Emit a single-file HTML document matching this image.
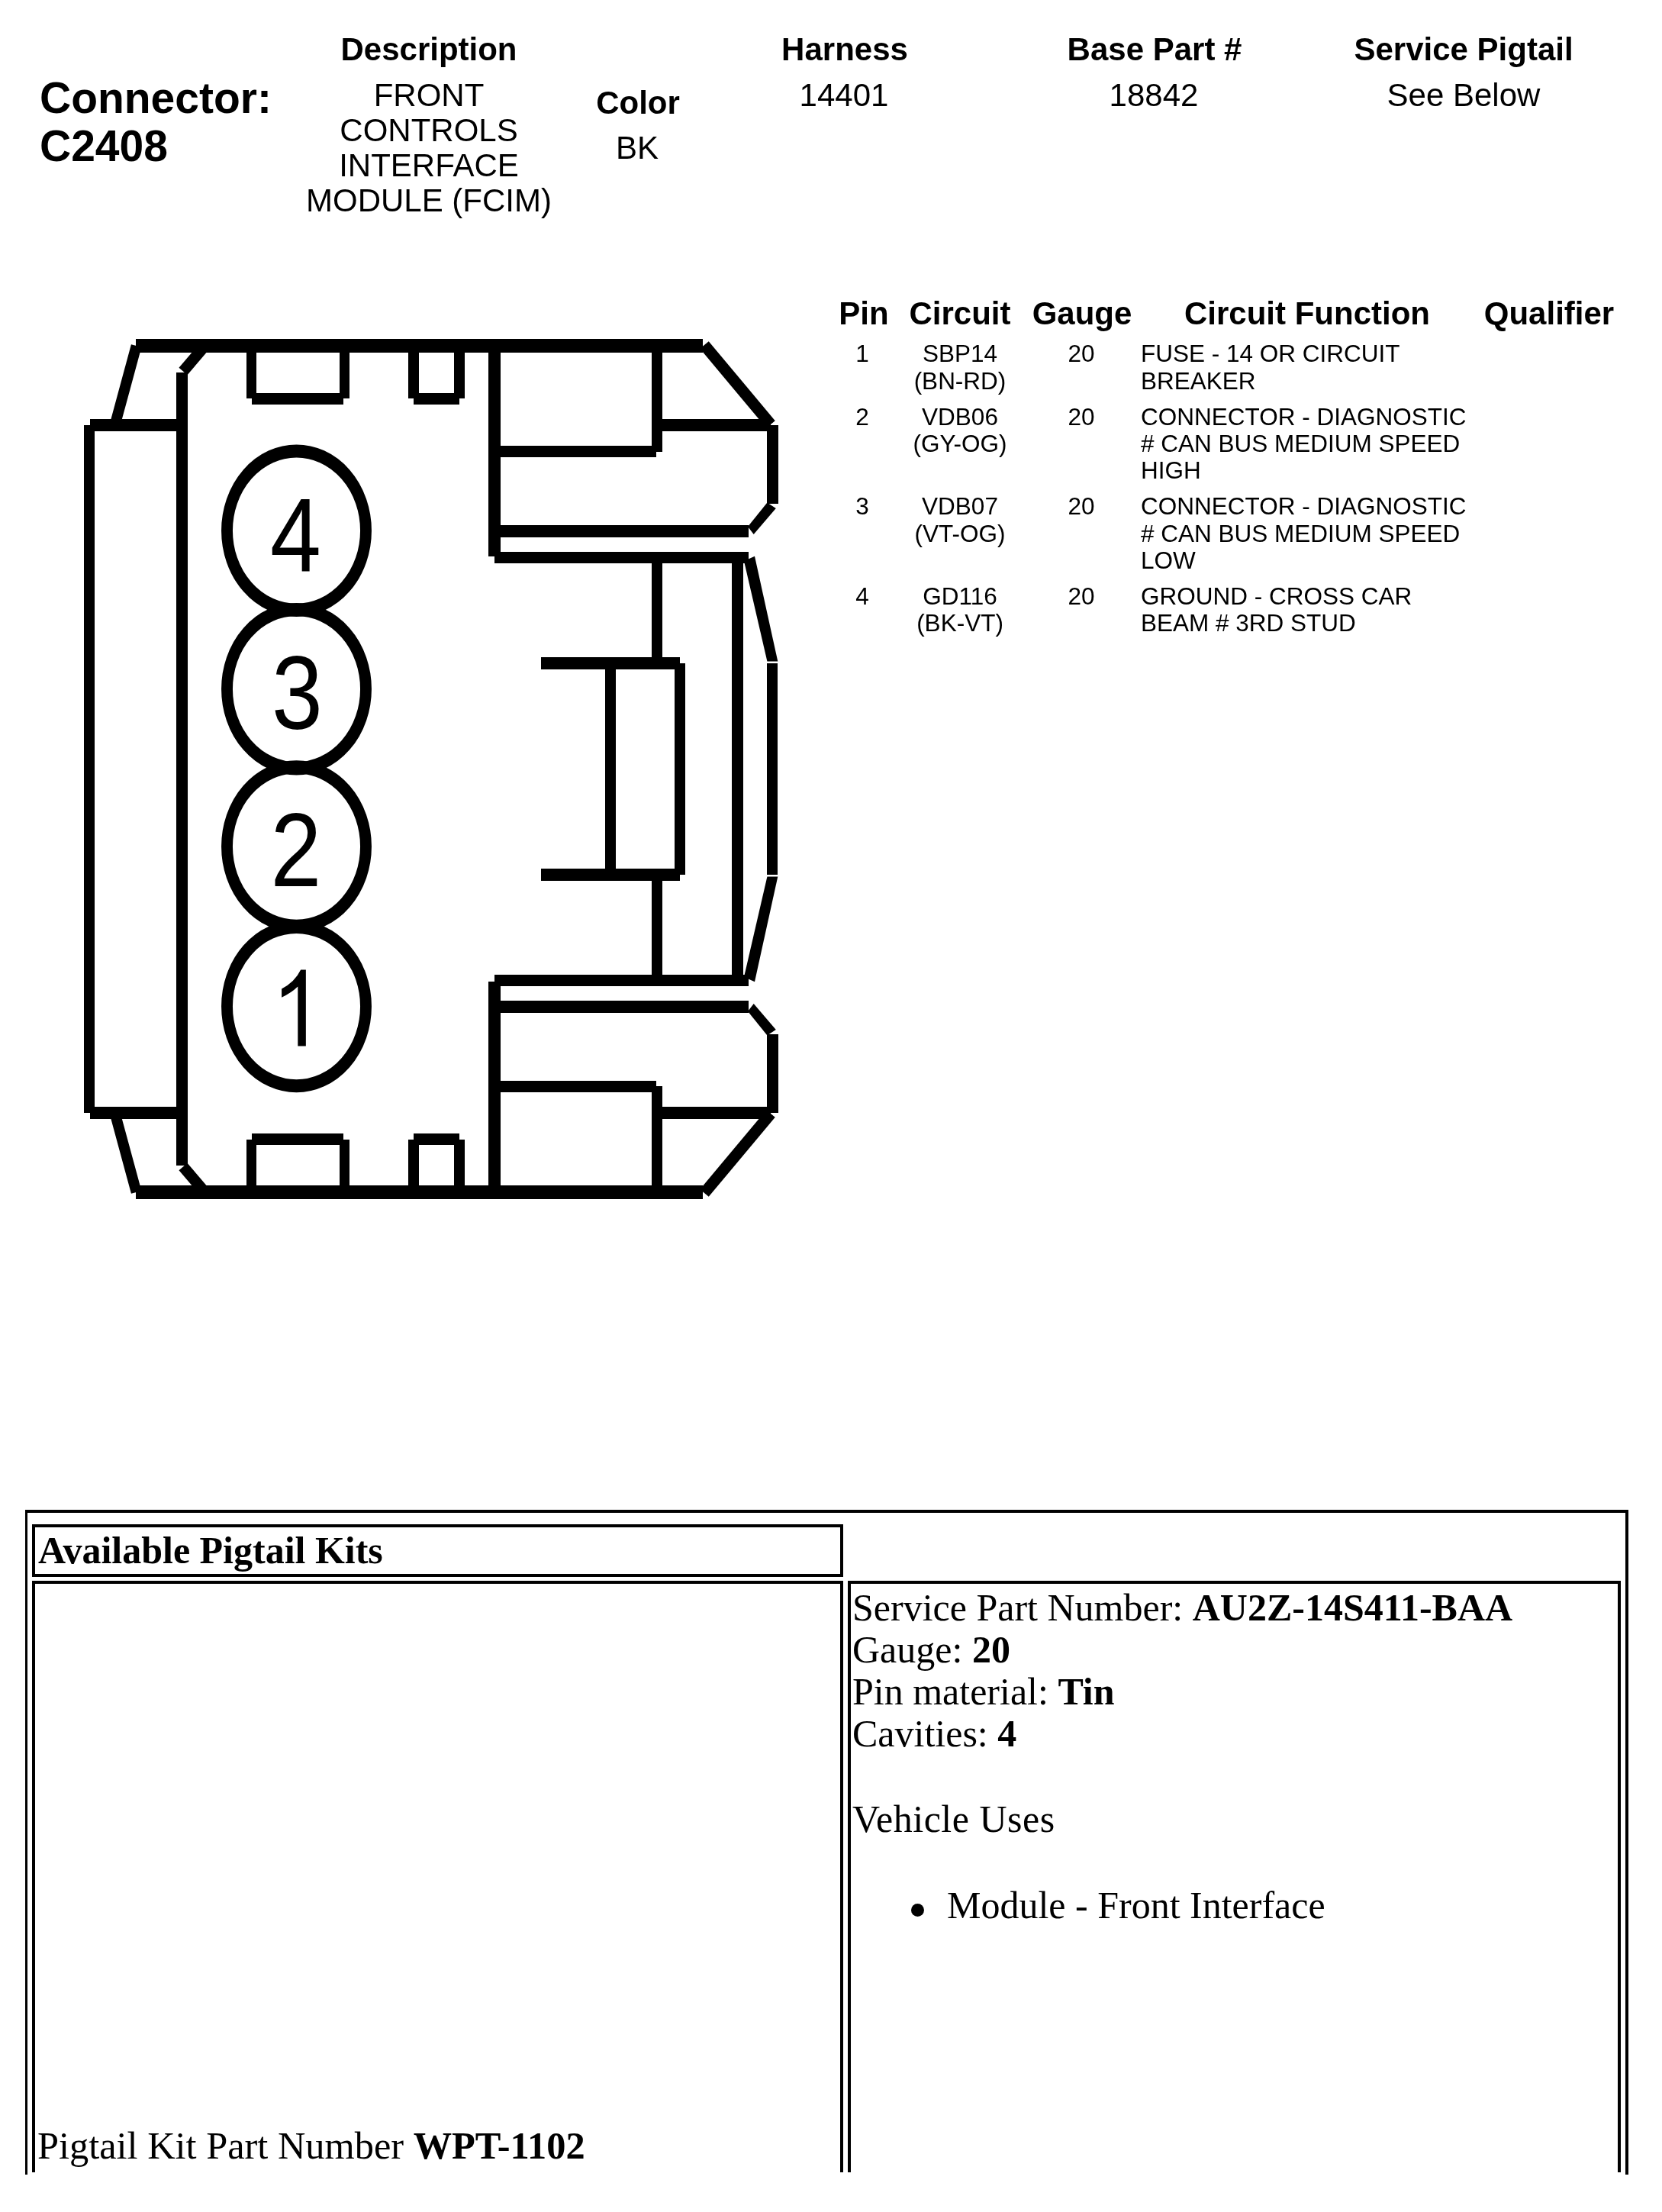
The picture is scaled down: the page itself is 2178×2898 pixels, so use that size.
<!DOCTYPE html>
<html><head><meta charset="utf-8"><style>
html,body{margin:0;padding:0;background:#fff;}
body{width:2178px;height:2898px;position:relative;overflow:hidden;}
.t{position:absolute;white-space:nowrap;line-height:1;color:#000;will-change:transform;}
.b{position:absolute;background:#000;}
.d{position:absolute;left:0;top:0;}
</style></head><body>
<svg class="d" width="2178" height="2898" viewBox="0 0 2178 2898">
<g fill="#000"><rect x="178" y="444" width="743" height="18"/><line x1="178.7" y1="453" x2="150.5" y2="557" stroke="#000" stroke-width="14"/><rect x="118" y="549" width="114" height="16"/><rect x="110" y="557" width="14" height="455"/><rect x="231" y="488" width="15" height="524"/><line x1="240" y1="486.5" x2="266" y2="456" stroke="#000" stroke-width="14.5"/><rect x="323" y="462" width="13" height="60"/><rect x="445" y="462" width="13" height="60"/><rect x="330" y="515" width="120" height="15"/><rect x="535" y="462" width="14" height="60"/><rect x="595" y="462" width="14" height="60"/><rect x="542" y="515" width="60" height="15"/><rect x="640" y="462" width="16" height="267"/><rect x="854" y="462" width="14" height="130"/><rect x="655" y="584" width="205" height="15"/><line x1="923" y1="452" x2="1010" y2="556" stroke="#000" stroke-width="15"/><rect x="868" y="549" width="142" height="16"/><rect x="1005" y="557" width="15" height="103"/><polygon points="1005.4,658.6 1016.8,666 987.7,700 980,690"/><rect x="655" y="688" width="326" height="16"/><rect x="648" y="723" width="333" height="15"/><rect x="854" y="738" width="14" height="124"/><rect x="959" y="738" width="15" height="274"/><polygon points="975,735 989,728.8 1019.3,866.6 1005.4,866.6"/><rect x="1005" y="869" width="14" height="143"/><rect x="709" y="861" width="182" height="16"/><rect x="793" y="877" width="14" height="135"/><rect x="884" y="869" width="14" height="143"/></g>
<g fill="#000" transform="matrix(1 0 0 -1 0 2015)"><rect x="178" y="444" width="743" height="18"/><line x1="178.7" y1="453" x2="150.5" y2="557" stroke="#000" stroke-width="14"/><rect x="118" y="549" width="114" height="16"/><rect x="110" y="557" width="14" height="455"/><rect x="231" y="488" width="15" height="524"/><line x1="240" y1="486.5" x2="266" y2="456" stroke="#000" stroke-width="14.5"/><rect x="323" y="462" width="13" height="60"/><rect x="445" y="462" width="13" height="60"/><rect x="330" y="515" width="120" height="15"/><rect x="535" y="462" width="14" height="60"/><rect x="595" y="462" width="14" height="60"/><rect x="542" y="515" width="60" height="15"/><rect x="640" y="462" width="16" height="267"/><rect x="854" y="462" width="14" height="130"/><rect x="655" y="584" width="205" height="15"/><line x1="923" y1="452" x2="1010" y2="556" stroke="#000" stroke-width="15"/><rect x="868" y="549" width="142" height="16"/><rect x="1005" y="557" width="15" height="103"/><polygon points="1005.4,658.6 1016.8,666 987.7,700 980,690"/><rect x="655" y="688" width="326" height="16"/><rect x="648" y="723" width="333" height="15"/><rect x="854" y="738" width="14" height="124"/><rect x="959" y="738" width="15" height="274"/><polygon points="975,735 989,728.8 1019.3,866.6 1005.4,866.6"/><rect x="1005" y="869" width="14" height="143"/><rect x="709" y="861" width="182" height="16"/><rect x="793" y="877" width="14" height="135"/><rect x="884" y="869" width="14" height="143"/></g>
<g transform="translate(388.5 695.15) scale(1 1.145)"><circle cx="0" cy="0" r="91" fill="none" stroke="#000" stroke-width="14.9"/></g><g transform="translate(388.5 902.65) scale(1 1.145)"><circle cx="0" cy="0" r="91" fill="none" stroke="#000" stroke-width="14.9"/></g><g transform="translate(388.5 1109) scale(1 1.145)"><circle cx="0" cy="0" r="91" fill="none" stroke="#000" stroke-width="14.9"/></g><g transform="translate(388.5 1318.55) scale(1 1.145)"><circle cx="0" cy="0" r="91" fill="none" stroke="#000" stroke-width="14.9"/></g>
<g transform="translate(387.4 747.7) scale(1 1.145)"><text x="0" y="0" text-anchor="middle" font-size="120" font-family="Liberation Sans">4</text></g><g transform="translate(389.3 954.5) scale(1 1.145)"><text x="0" y="0" text-anchor="middle" font-size="120" font-family="Liberation Sans">3</text></g><g transform="translate(387.9 1161) scale(1 1.145)"><text x="0" y="0" text-anchor="middle" font-size="120" font-family="Liberation Sans">2</text></g><path d="M394.1 1270.6 L400.85 1270.6 L400.85 1370.5 L390.3 1370.5 L390.3 1292.6 Q381 1301.5 369.1 1306.7 L369.1 1295.6 Q386.5 1286.5 394.1 1270.6 Z" fill="#000"/>
</svg>
<div class="t" style="left:51.5px;top:99.8px;font-size:57px;font-weight:bold;font-family:'Liberation Sans', sans-serif;">Connector:</div><div class="t" style="left:51.5px;top:162.8px;font-size:57px;font-weight:bold;font-family:'Liberation Sans', sans-serif;">C2408</div><div class="t" style="left:-38.5px;width:1200px;text-align:center;top:44.1px;font-size:42px;font-weight:bold;font-family:'Liberation Sans', sans-serif;">Description</div><div class="t" style="left:-38.5px;width:1200px;text-align:center;top:103.5px;font-size:42px;font-family:'Liberation Sans', sans-serif;">FRONT</div><div class="t" style="left:-38.5px;width:1200px;text-align:center;top:149.8px;font-size:42px;font-family:'Liberation Sans', sans-serif;">CONTROLS</div><div class="t" style="left:-38.5px;width:1200px;text-align:center;top:196.1px;font-size:42px;font-family:'Liberation Sans', sans-serif;">INTERFACE</div><div class="t" style="left:-38.5px;width:1200px;text-align:center;top:242.4px;font-size:42px;font-family:'Liberation Sans', sans-serif;">MODULE (FCIM)</div><div class="t" style="left:235.5px;width:1200px;text-align:center;top:113.5px;font-size:42px;font-weight:bold;font-family:'Liberation Sans', sans-serif;">Color</div><div class="t" style="left:235.0px;width:1200px;text-align:center;top:172.5px;font-size:42px;font-family:'Liberation Sans', sans-serif;">BK</div><div class="t" style="left:507.0px;width:1200px;text-align:center;top:44.1px;font-size:42px;font-weight:bold;font-family:'Liberation Sans', sans-serif;">Harness</div><div class="t" style="left:506.0px;width:1200px;text-align:center;top:103.5px;font-size:42px;font-family:'Liberation Sans', sans-serif;">14401</div><div class="t" style="left:913.4px;width:1200px;text-align:center;top:44.1px;font-size:42px;font-weight:bold;font-family:'Liberation Sans', sans-serif;">Base Part #</div><div class="t" style="left:912.3px;width:1200px;text-align:center;top:103.5px;font-size:42px;font-family:'Liberation Sans', sans-serif;">18842</div><div class="t" style="left:1317.7px;width:1200px;text-align:center;top:44.1px;font-size:42px;font-weight:bold;font-family:'Liberation Sans', sans-serif;">Service Pigtail</div><div class="t" style="left:1317.5px;width:1200px;text-align:center;top:103.5px;font-size:42px;font-family:'Liberation Sans', sans-serif;">See Below</div><div class="t" style="left:531.5px;width:1200px;text-align:center;top:389.5px;font-size:42px;font-weight:bold;font-family:'Liberation Sans', sans-serif;">Pin</div><div class="t" style="left:658.4px;width:1200px;text-align:center;top:389.5px;font-size:42px;font-weight:bold;font-family:'Liberation Sans', sans-serif;">Circuit</div><div class="t" style="left:817.6px;width:1200px;text-align:center;top:389.5px;font-size:42px;font-weight:bold;font-family:'Liberation Sans', sans-serif;">Gauge</div><div class="t" style="left:1113.0px;width:1200px;text-align:center;top:389.5px;font-size:42px;font-weight:bold;font-family:'Liberation Sans', sans-serif;">Circuit Function</div><div class="t" style="left:1430.0px;width:1200px;text-align:center;top:389.5px;font-size:42px;font-weight:bold;font-family:'Liberation Sans', sans-serif;">Qualifier</div><div class="t" style="left:530.0px;width:1200px;text-align:center;top:448.3px;font-size:31.5px;font-family:'Liberation Sans', sans-serif;">1</div><div class="t" style="left:658.0px;width:1200px;text-align:center;top:448.3px;font-size:31.5px;font-family:'Liberation Sans', sans-serif;">SBP14</div><div class="t" style="left:658.0px;width:1200px;text-align:center;top:483.6px;font-size:31.5px;font-family:'Liberation Sans', sans-serif;">(BN-RD)</div><div class="t" style="left:817.4px;width:1200px;text-align:center;top:448.3px;font-size:31.5px;font-family:'Liberation Sans', sans-serif;">20</div><div class="t" style="left:1495.0px;top:448.3px;font-size:31.5px;font-family:'Liberation Sans', sans-serif;">FUSE - 14 OR CIRCUIT</div><div class="t" style="left:1495.0px;top:483.6px;font-size:31.5px;font-family:'Liberation Sans', sans-serif;">BREAKER</div><div class="t" style="left:530.0px;width:1200px;text-align:center;top:530.8px;font-size:31.5px;font-family:'Liberation Sans', sans-serif;">2</div><div class="t" style="left:658.0px;width:1200px;text-align:center;top:530.8px;font-size:31.5px;font-family:'Liberation Sans', sans-serif;">VDB06</div><div class="t" style="left:658.0px;width:1200px;text-align:center;top:566.1px;font-size:31.5px;font-family:'Liberation Sans', sans-serif;">(GY-OG)</div><div class="t" style="left:817.4px;width:1200px;text-align:center;top:530.8px;font-size:31.5px;font-family:'Liberation Sans', sans-serif;">20</div><div class="t" style="left:1495.0px;top:530.8px;font-size:31.5px;font-family:'Liberation Sans', sans-serif;">CONNECTOR - DIAGNOSTIC</div><div class="t" style="left:1495.0px;top:566.1px;font-size:31.5px;font-family:'Liberation Sans', sans-serif;"># CAN BUS MEDIUM SPEED</div><div class="t" style="left:1495.0px;top:601.4px;font-size:31.5px;font-family:'Liberation Sans', sans-serif;">HIGH</div><div class="t" style="left:530.0px;width:1200px;text-align:center;top:648.3px;font-size:31.5px;font-family:'Liberation Sans', sans-serif;">3</div><div class="t" style="left:658.0px;width:1200px;text-align:center;top:648.3px;font-size:31.5px;font-family:'Liberation Sans', sans-serif;">VDB07</div><div class="t" style="left:658.0px;width:1200px;text-align:center;top:683.6px;font-size:31.5px;font-family:'Liberation Sans', sans-serif;">(VT-OG)</div><div class="t" style="left:817.4px;width:1200px;text-align:center;top:648.3px;font-size:31.5px;font-family:'Liberation Sans', sans-serif;">20</div><div class="t" style="left:1495.0px;top:648.3px;font-size:31.5px;font-family:'Liberation Sans', sans-serif;">CONNECTOR - DIAGNOSTIC</div><div class="t" style="left:1495.0px;top:683.6px;font-size:31.5px;font-family:'Liberation Sans', sans-serif;"># CAN BUS MEDIUM SPEED</div><div class="t" style="left:1495.0px;top:718.9px;font-size:31.5px;font-family:'Liberation Sans', sans-serif;">LOW</div><div class="t" style="left:530.0px;width:1200px;text-align:center;top:765.9px;font-size:31.5px;font-family:'Liberation Sans', sans-serif;">4</div><div class="t" style="left:658.0px;width:1200px;text-align:center;top:765.9px;font-size:31.5px;font-family:'Liberation Sans', sans-serif;">GD116</div><div class="t" style="left:658.0px;width:1200px;text-align:center;top:801.2px;font-size:31.5px;font-family:'Liberation Sans', sans-serif;">(BK-VT)</div><div class="t" style="left:817.4px;width:1200px;text-align:center;top:765.9px;font-size:31.5px;font-family:'Liberation Sans', sans-serif;">20</div><div class="t" style="left:1495.0px;top:765.9px;font-size:31.5px;font-family:'Liberation Sans', sans-serif;">GROUND - CROSS CAR</div><div class="t" style="left:1495.0px;top:801.2px;font-size:31.5px;font-family:'Liberation Sans', sans-serif;">BEAM # 3RD STUD</div><div class="t" style="left:50.0px;top:2005.8px;font-size:50px;font-weight:bold;font-family:'Liberation Serif', serif;">Available Pigtail Kits</div><div class="t" style="left:1117.0px;top:2081.1px;font-size:50px;font-family:'Liberation Serif', serif;">Service Part Number: <b>AU2Z-14S411-BAA</b></div><div class="t" style="left:1117.0px;top:2135.7px;font-size:50px;font-family:'Liberation Serif', serif;">Gauge: <b>20</b></div><div class="t" style="left:1117.0px;top:2190.8px;font-size:50px;font-family:'Liberation Serif', serif;">Pin material: <b>Tin</b></div><div class="t" style="left:1117.0px;top:2245.6px;font-size:50px;font-family:'Liberation Serif', serif;">Cavities: <b>4</b></div><div class="t" style="left:1117.0px;top:2357.6px;font-size:50px;font-family:'Liberation Serif', serif;letter-spacing:0.5px;">Vehicle Uses</div><div class="t" style="left:1241.0px;top:2471.1px;font-size:50px;font-family:'Liberation Serif', serif;">Module - Front Interface</div><div class="t" style="left:48.5px;top:2786.2px;font-size:50.4px;font-family:'Liberation Serif', serif;">Pigtail Kit Part Number <b>WPT-1102</b></div>
<div class="b" style="left:33px;top:1978px;width:2101px;height:4px"></div><div class="b" style="left:33px;top:1978px;width:3px;height:871px"></div><div class="b" style="left:2130px;top:1978px;width:4px;height:871px"></div><div class="b" style="left:42px;top:1997px;width:1063px;height:4px"></div><div class="b" style="left:42px;top:2062px;width:1063px;height:4px"></div><div class="b" style="left:42px;top:1997px;width:4px;height:69px"></div><div class="b" style="left:1101px;top:1997px;width:4px;height:69px"></div><div class="b" style="left:42px;top:2071px;width:1063px;height:4px"></div><div class="b" style="left:42px;top:2071px;width:4px;height:775px"></div><div class="b" style="left:1101px;top:2071px;width:4px;height:775px"></div><div class="b" style="left:1111px;top:2071px;width:1013px;height:4px"></div><div class="b" style="left:1111px;top:2071px;width:4px;height:775px"></div><div class="b" style="left:2120px;top:2071px;width:4px;height:775px"></div><div class="b" style="left:1194px;top:2494px;width:17px;height:17px;border-radius:50%"></div>
</body></html>
